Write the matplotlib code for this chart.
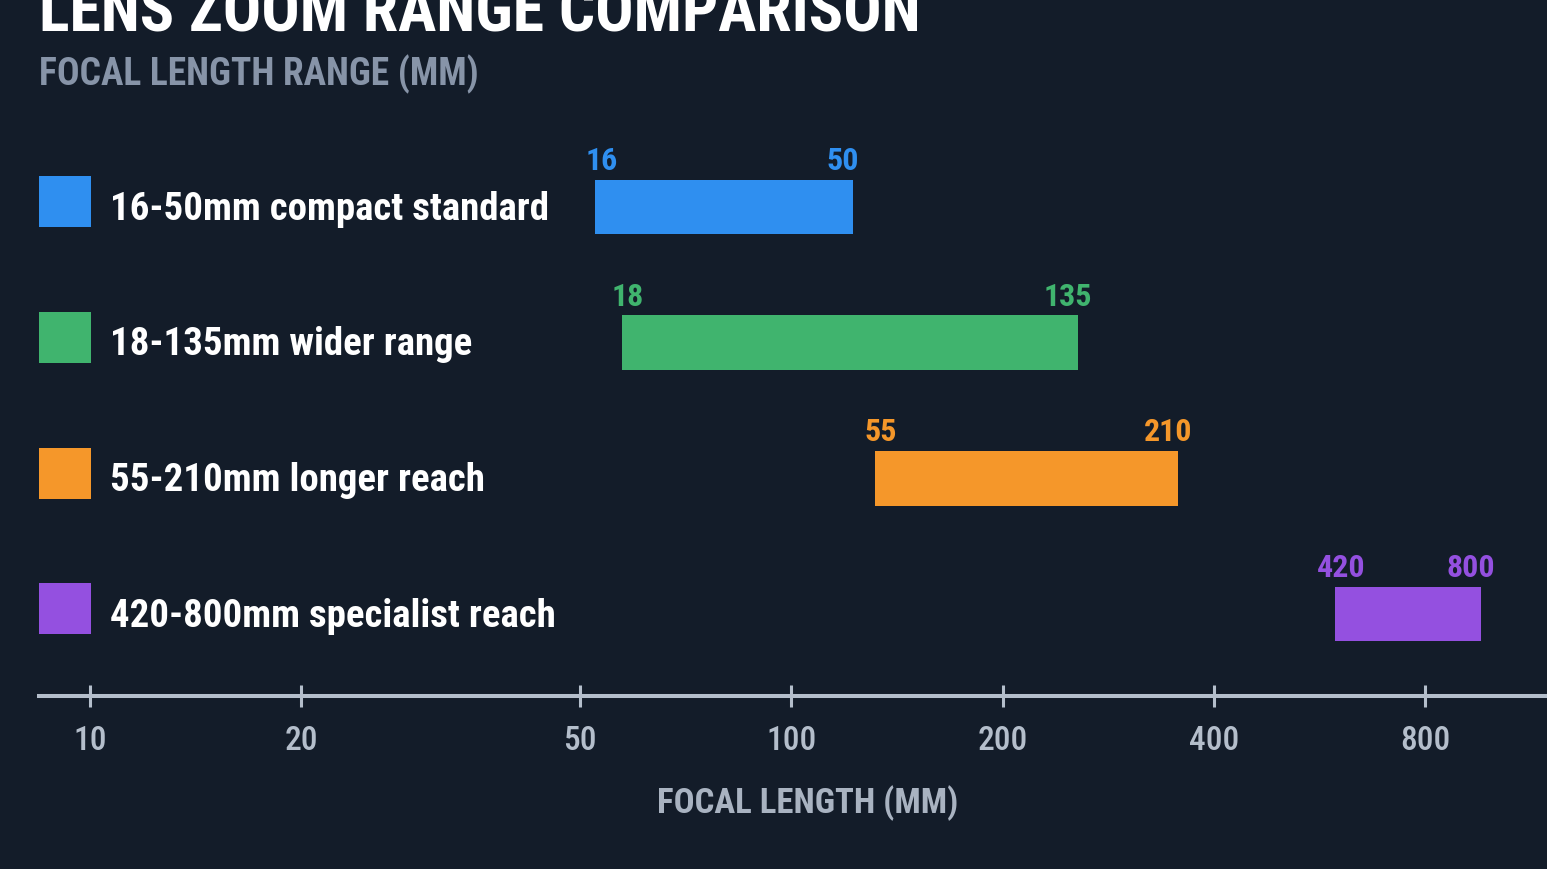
import os
import matplotlib
matplotlib.use("Agg")
import matplotlib.pyplot as plt
import matplotlib.transforms as mtransforms
from matplotlib import font_manager as fm
from matplotlib.patches import Rectangle
from matplotlib.ticker import FixedLocator, NullLocator

# data
lens_labels = ["16-50mm compact standard", "18-135mm wider range",
               "55-210mm longer reach", "420-800mm specialist reach"]
range_start = [16, 18, 55, 420]
range_end = [50, 135, 210, 800]
bar_colors = ["#2f8ff0", "#40b46e", "#f5972a", "#9450e0"]
axis_ticks = [10, 20, 50, 100, 200, 400, 800, 1600]
axis_tick_labels = ["10", "20", "50", "100", "200", "400", "800", "1600"]

BG = "#131c29"
W, H = 1547, 870


def pick_font(keys, fallback_bold):
    files = [f.fname for f in fm.fontManager.ttflist]
    for k in keys:
        for fn in files:
            if k in os.path.basename(fn).lower():
                return fn
    return fm.findfont(fm.FontProperties(family="DejaVu Sans",
                                         weight="bold" if fallback_bold else "normal"))


BOLD = pick_font(["robotocondensed-bold", "notosans-condensedbold", "opensans-condensedbold",
                  "dejavusanscondensed-bold.", "liberationsansnarrow-bold."], True)
REG = pick_font(["robotocondensed-medium", "robotocondensed-regular", "notosans-condensedmedium",
                 "notosans-condensed.", "dejavusanscondensed.", "liberationsansnarrow-regular."], False)


def fp(path, size):
    return fm.FontProperties(fname=path, size=size)


fig = plt.figure(figsize=(W / 100, H / 100), dpi=100, facecolor=BG)

# title block
fig.text(39 / W, 1 - 32 / H, "LENS ZOOM RANGE COMPARISON", color="white",
         fontproperties=fp(BOLD, 46), ha="left", va="baseline")
fig.text(39 / W, 1 - 85 / H, "FOCAL LENGTH RANGE (MM)", color="#8794a8",
         fontproperties=fp(BOLD, 27), ha="left", va="baseline")

# bars (log scale)
ax = fig.add_axes([0, 190 / H, 1, 540 / H])
ax.set_facecolor("none")
ax.set_xscale("log")
ax.set_xlim(1.152, 1073)
ax.set_ylim(3.479, -0.501)
ax.axis("off")

rows = list(range(len(lens_labels)))
widths = [e - s for s, e in zip(range_start, range_end)]
ax.barh(rows, widths, left=range_start, height=0.405, color=bar_colors)

mix = mtransforms.blended_transform_factory(ax.transAxes, ax.transData)
for i in rows:
    ax.add_patch(Rectangle((39 / W, i - 0.037 - 0.188), 52 / W, 0.376,
                           transform=mix, color=bar_colors[i], lw=0))
    ax.text(110 / W, i + 0.085, lens_labels[i], transform=mix, color="white",
            fontproperties=fp(BOLD, 28), ha="left", va="baseline")
    ax.annotate(str(range_start[i]), (range_start[i], i - 0.28), xytext=(6, 0),
                textcoords="offset pixels", color=bar_colors[i],
                fontproperties=fp(BOLD, 23), ha="center", va="baseline")
    ax.annotate(str(range_end[i]), (range_end[i], i - 0.28), xytext=(-10, 0),
                textcoords="offset pixels", color=bar_colors[i],
                fontproperties=fp(BOLD, 23), ha="center", va="baseline")

# bottom focal length axis
axx = fig.add_axes([39 / W, (H - 697) / H, (1700 - 39) / W, 0.0001])
axx.set_facecolor("none")
axx.set_xscale("log")
axx.set_xlim(8.46, 1973)
axx.set_ylim(0, 1)
for s in ["top", "left", "right"]:
    axx.spines[s].set_visible(False)
axx.spines["bottom"].set_color("#b4becb")
axx.spines["bottom"].set_linewidth(2.9)
axx.yaxis.set_major_locator(NullLocator())
axx.xaxis.set_major_locator(FixedLocator(axis_ticks))
axx.xaxis.set_minor_locator(NullLocator())
axx.set_xticklabels(axis_tick_labels)
axx.tick_params(axis="x", direction="inout", length=16, width=2.2,
                color="#b4becb", labelcolor="#b4becb", pad=12)
for lab in axx.get_xticklabels():
    lab.set_fontproperties(fp(REG, 24))

fig.text(808 / W, 1 - 813 / H, "FOCAL LENGTH (MM)", color="#a9b3c1",
         fontproperties=fp(BOLD, 25), ha="center", va="baseline")

fig.savefig("out.png", dpi=100, facecolor=BG)
